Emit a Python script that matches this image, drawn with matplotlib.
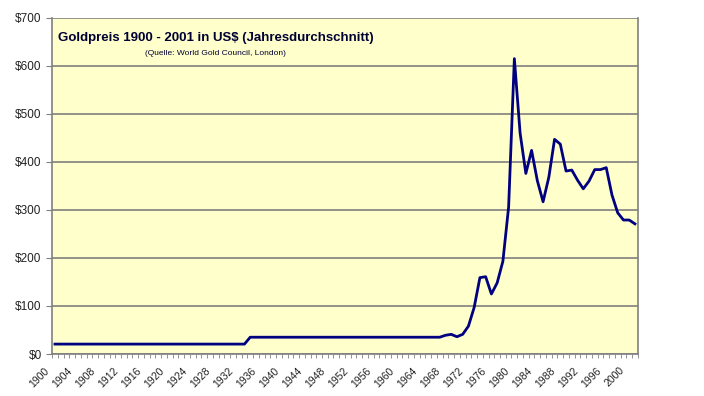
import matplotlib
matplotlib.use("Agg")
import matplotlib.pyplot as plt
import matplotlib.transforms as mtransforms
import numpy as np

plt.rcParams['font.family'] = ['Liberation Sans', 'DejaVu Sans']

years = list(range(1900, 2002))
price_1900_1933 = [20.67] * 34
price_1934_1967 = [35.0] * 34
price_1968_2001 = [39, 41, 36, 41, 58, 97, 159, 161, 125, 148, 193, 306, 615, 460,
                   376, 424, 361, 317, 368, 447, 437, 381, 383, 362, 344, 360, 384,
                   384, 388, 331, 294, 279, 279, 271]
prices = price_1900_1933 + price_1934_1967 + price_1968_2001
yticks = [0, 100, 200, 300, 400, 500, 600, 700]
xlabel_years = years[::4]

fig = plt.figure(figsize=(7.04, 3.96), dpi=100)
ax = fig.add_axes([0.074, 0.106, 0.832, 0.849])
ax.set_facecolor('#FFFFCC')
x = np.arange(len(years))
ax.plot(x, prices, color='#000080', lw=2)
ax.set_xlim(-0.5, len(years) - 0.5)
ax.set_ylim(0, 700)
ax.set_yticks(yticks)
ax.set_yticklabels([f"${v}" for v in yticks], fontsize=8.5, color='#222222')
ax.grid(axis='y', color='#808080', lw=1.2)
ax.set_axisbelow(True)
ax.set_xticks([])
base = mtransforms.blended_transform_factory(ax.transData, ax.transAxes)
offset = mtransforms.ScaledTranslation(-7 / 100, -15 / 100, fig.dpi_scale_trans)
for yr in xlabel_years:
    ax.text(years.index(yr), 0, str(yr), transform=base + offset, rotation=45,
            ha='right', va='center', rotation_mode='anchor', fontsize=7.5,
            color='#222222', clip_on=False)
ax.set_xticks(np.arange(len(years) + 1) - 0.5, minor=True)
ax.tick_params(axis='x', which='minor', length=3, color='#808080')
ax.tick_params(axis='y', length=4, color='#808080')
for s in ['left', 'bottom', 'right']:
    ax.spines[s].set_color('#808080')
    ax.spines[s].set_linewidth(1.2)
ax.spines['top'].set_visible(False)
ax.text(0.01, 0.94, "Goldpreis 1900 - 2001 in US$ (Jahresdurchschnitt)",
        transform=ax.transAxes, fontsize=9.5, fontweight='bold', color='#000033',
        va='center', ha='left')
ax.text(0.159, 0.893, "(Quelle: World Gold Council, London)", transform=ax.transAxes,
        fontsize=6, va='center', ha='left', color='#000033')
fig.savefig("out.png", dpi=100)
